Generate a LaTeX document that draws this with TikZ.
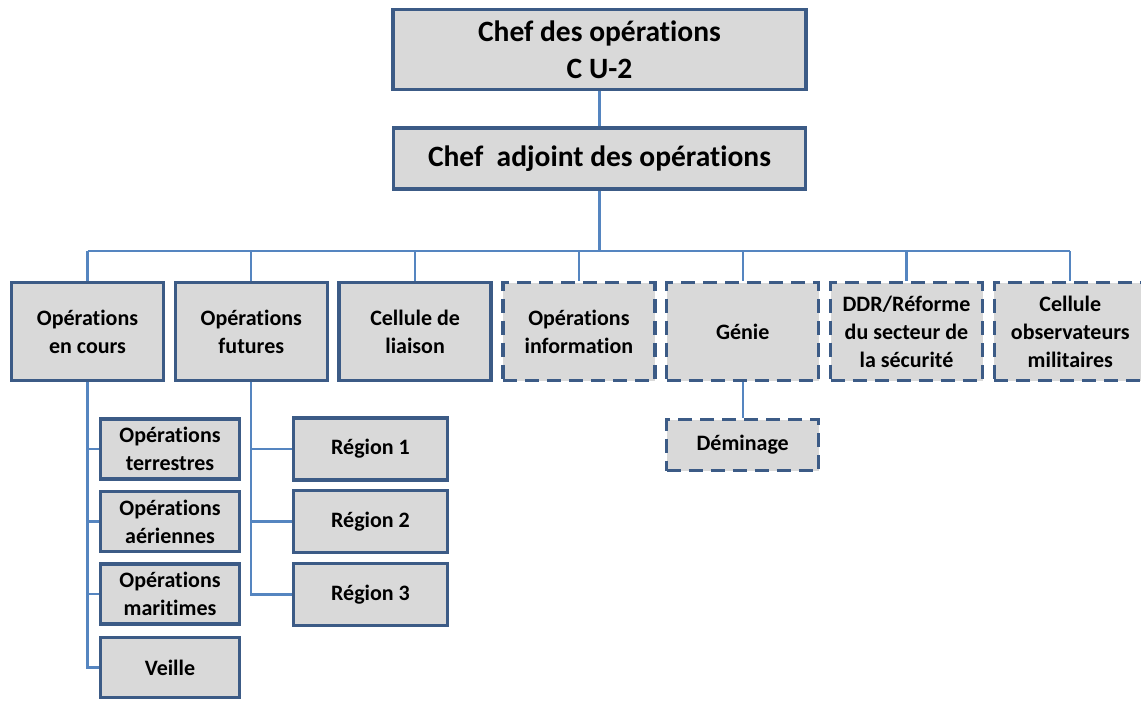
\documentclass[tikz,border=0pt]{standalone}
\usepackage{fontspec}
\setmainfont[Ligatures={NoCommon}]{Carlito}
\definecolor{boxblue}{HTML}{3C5B86}
\definecolor{linkblue}{HTML}{5585C0}
\definecolor{boxgray}{HTML}{D9D9D9}
\begin{document}
\begin{tikzpicture}[x=1pt,y=-1pt,
  box/.style={draw=boxblue, fill=boxgray, line width=3.5pt, rectangle,
    align=center, inner sep=0pt, font=\bfseries\fontsize{22}{28}\selectfont},
  bigbox/.style={box, font=\bfseries\fontsize{29.5}{37}\selectfont},
  dbox/.style={box, dash pattern=on 14pt off 8pt},
  lvl/.style={minimum width=152pt, minimum height=98pt},
  sub/.style={minimum width=139pt, minimum height=60pt},
  reg/.style={minimum width=154pt, minimum height=62pt},
  conn/.style={draw=linkblue, line width=2.2pt}]
\useasboundingbox (0,0) rectangle (1141,702);

% head of the cell
\node[bigbox, minimum width=413pt, minimum height=80pt] (chef) at (599.5,49.5)
  {Chef des opérations\\C U-2};
\node[bigbox, minimum width=412pt, minimum height=61pt] (adj) at (599.5,158.5)
  {Chef~ adjoint des opérations};

% sections
\node[box, lvl]  (oec) at (87.5,331.5)  {Opérations\\en cours};
\node[box, lvl]  (ofu) at (251.3,331.5) {Opérations\\futures};
\node[box, lvl]  (cli) at (415.1,331.5) {Cellule de\\liaison};
\node[dbox, lvl] (oin) at (578.9,331.5) {Opérations\\information};
\node[dbox, lvl] (gen) at (742.7,331.5) {Génie};
\node[dbox, lvl] (ddr) at (906.5,331.5) {DDR/Réforme\\du secteur de\\la sécurité};
\node[dbox, lvl] (obs) at (1070.3,331.5) {Cellule\\observateurs\\militaires};

% current operations
\node[box, sub] (ter) at (170,449)   {Opérations\\terrestres};
\node[box, sub] (aer) at (170,521.5) {Opérations\\aériennes};
\node[box, sub] (mar) at (170,594)   {Opérations\\maritimes};
\node[box, sub] (vei) at (170,667.5) {Veille};

% future operations
\node[box, reg] (r1) at (370.5,449)   {Région 1};
\node[box, reg] (r2) at (370.5,521.5) {Région 2};
\node[box, reg] (r3) at (370.5,594.5) {Région 3};

% engineering
\node[dbox, minimum width=152pt, minimum height=51pt] (dem) at (742.7,445) {Déminage};

% links
\coordinate (bus) at (0,251);
\draw[conn] (chef) -- (adj);
\draw[conn] (adj.south) -- (adj.south |- bus);
\draw[conn] (oec.north |- bus) -- (obs.north |- bus);
\foreach \n in {oec,ofu,cli,oin,gen,ddr,obs}
  \draw[conn] (\n.north) -- (\n.north |- bus);

\draw[conn] (oec.south) -- (oec.south |- vei.west) -- (vei.west);
\foreach \n in {ter,aer,mar}
  \draw[conn] (oec.south |- \n.west) -- (\n.west);

\draw[conn] (ofu.south) -- (ofu.south |- r3.west) -- (r3.west);
\foreach \n in {r1,r2}
  \draw[conn] (ofu.south |- \n.west) -- (\n.west);

\draw[conn] (gen.south) -- (dem.north);
\end{tikzpicture}
\end{document}
